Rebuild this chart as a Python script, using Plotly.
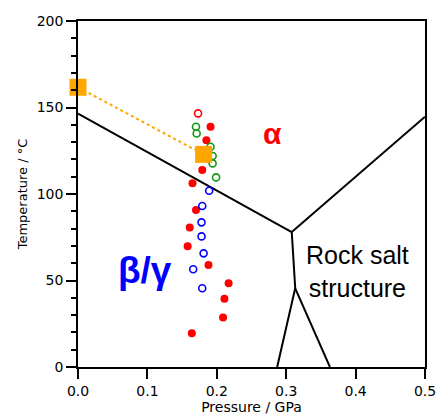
import plotly.graph_objects as go

# Phase boundaries (pressure GPa, temperature C)
bound1_p = [0.0, 0.308]
bound1_t = [146.5, 78.0]
bound2_p = [0.308, 0.5]
bound2_t = [78.0, 144.7]
bound3_p = [0.308, 0.313, 0.287]
bound3_t = [78.0, 45.5, 0.0]
bound4_p = [0.313, 0.363]
bound4_t = [45.5, 0.0]

# Orange squares
sq_p = [0.0, 0.181]
sq_t = [161.7, 122.9]

# Red filled
red_p = [0.191, 0.185, 0.179, 0.165, 0.170, 0.161, 0.158, 0.188, 0.217, 0.211, 0.209, 0.164]
red_t = [138.9, 131.0, 113.9, 106.2, 90.8, 80.7, 69.8, 59.0, 48.4, 39.5, 28.6, 19.5]

# Red open
redo_p = [0.173]
redo_t = [146.6]

# Green open
green_p = [0.170, 0.171, 0.191, 0.194, 0.194, 0.199]
green_t = [138.9, 135.0, 127.3, 122.0, 117.7, 109.6]

# Blue open
blue_p = [0.189, 0.179, 0.178, 0.178, 0.181, 0.166, 0.179]
blue_t = [101.9, 93.1, 83.6, 75.5, 65.7, 56.5, 45.5]

fig = go.Figure()
for px, ty in [(bound1_p, bound1_t), (bound2_p, bound2_t), (bound3_p, bound3_t), (bound4_p, bound4_t)]:
    fig.add_trace(go.Scatter(x=px, y=ty, mode="lines", line=dict(color="black", width=2),
                             showlegend=False, hoverinfo="skip"))

fig.add_trace(go.Scatter(x=sq_p, y=sq_t, mode="lines", line=dict(color="#FFA500", width=2, dash="3px,3px"),
                         showlegend=False))
fig.add_trace(go.Scatter(x=red_p, y=red_t, mode="markers",
                         marker=dict(color="#FF0000", size=8, line=dict(width=0)), showlegend=False))
fig.add_trace(go.Scatter(x=redo_p, y=redo_t, mode="markers",
                         marker=dict(symbol="circle-open", color="#FF0000", size=7, line=dict(width=1.6)), showlegend=False))
fig.add_trace(go.Scatter(x=green_p, y=green_t, mode="markers",
                         marker=dict(symbol="circle-open", color="#119911", size=7, line=dict(width=1.6)), showlegend=False))
fig.add_trace(go.Scatter(x=blue_p, y=blue_t, mode="markers",
                         marker=dict(symbol="circle-open", color="#0000FF", size=7, line=dict(width=1.6)), showlegend=False))
fig.add_trace(go.Scatter(x=sq_p, y=sq_t, mode="markers",
                         marker=dict(symbol="square", color="#FFA500", size=17, line=dict(width=0)),
                         showlegend=False, cliponaxis=False))

fig.add_annotation(x=0.28, y=135, text="<b>α</b>", showarrow=False,
                   font=dict(color="#FF0000", size=30, family="Liberation Sans"))
fig.add_annotation(x=0.097, y=56, text="<b>β/γ</b>", showarrow=False,
                   font=dict(color="#0000FF", size=37, family="Liberation Sans"))
fig.add_annotation(x=0.403, y=55, text="Rock salt<br>structure", showarrow=False,
                   font=dict(color="black", size=25, family="Liberation Sans"))

axis_font = "DejaVu Sans"
fig.update_layout(
    width=437, height=420,
    margin=dict(l=78, r=12, t=21, b=53),
    plot_bgcolor="white", paper_bgcolor="white",
    font=dict(family=axis_font, color="black"),
    xaxis=dict(range=[0, 0.5], tickvals=[0, 0.1, 0.2, 0.3, 0.4, 0.5],
               ticktext=["0.0", "0.1", "0.2", "0.3", "0.4", "0.5"],
               ticks="outside", ticklen=10, tickwidth=1.5, tickcolor="black",
               showline=True, linecolor="black", linewidth=1.5, mirror=True,
               showgrid=False, zeroline=False, tickfont=dict(size=14, family=axis_font), automargin=False,
               title=dict(text="Pressure / GPa", font=dict(size=14, family=axis_font), standoff=4)),
    yaxis=dict(range=[0, 200], tickvals=[0, 50, 100, 150, 200],
               ticks="outside", ticklen=10, tickwidth=1.5, tickcolor="black",
               minor=dict(dtick=10, ticks="outside", ticklen=5, tickwidth=1.5, tickcolor="black"),
               showline=True, linecolor="black", linewidth=1.5, mirror=True,
               showgrid=False, zeroline=False, tickfont=dict(size=14, family=axis_font), automargin=False,
               title=dict(text="Temperature / °C", font=dict(size=13, family=axis_font), standoff=6)),
)

fig.write_html("out.html")
